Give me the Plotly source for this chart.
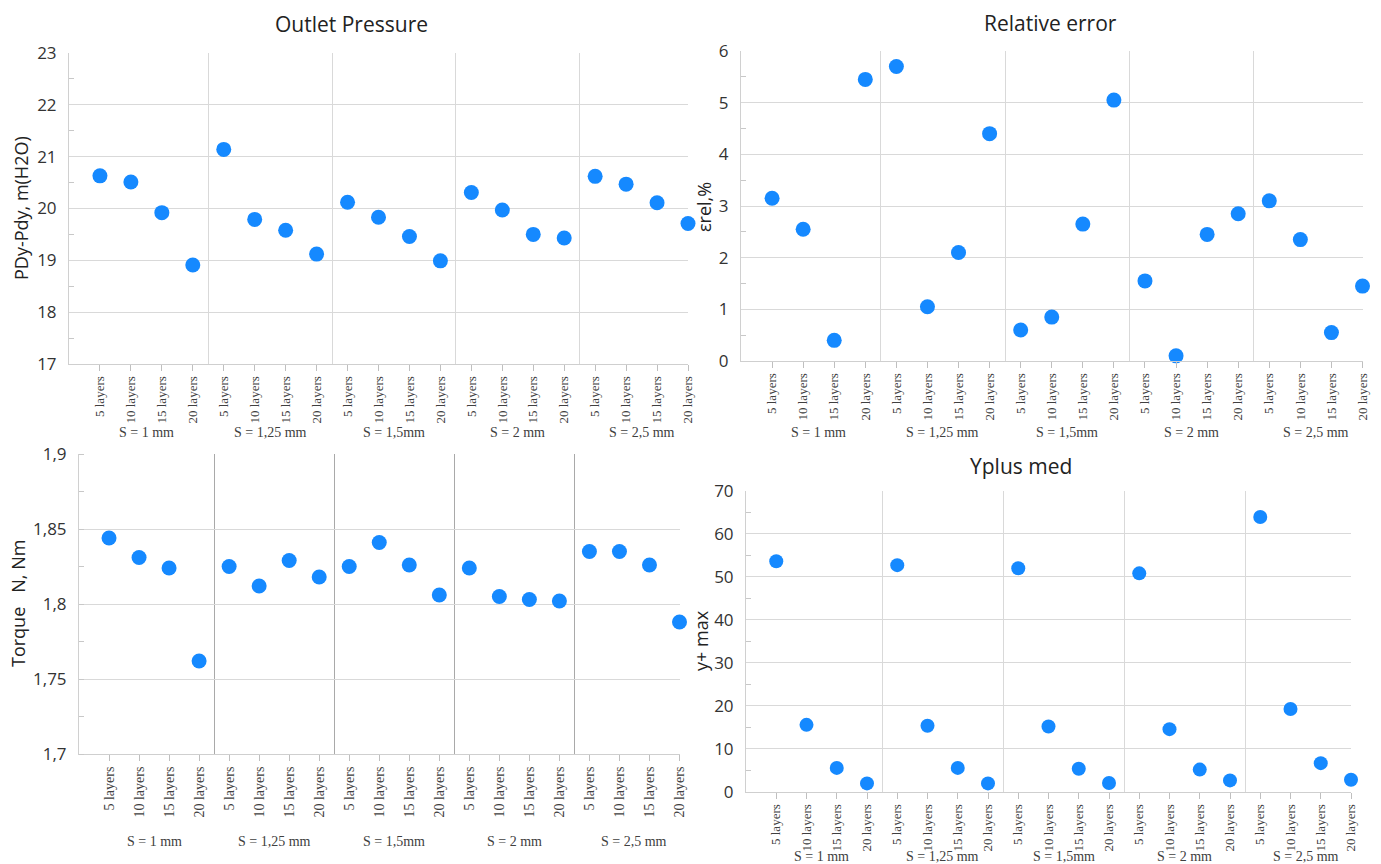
import plotly.graph_objects as go

# ---------------- data ----------------
layers = ["5 layers", "10 layers", "15 layers", "20 layers"]
groups = ["S = 1 mm", "S = 1,25 mm", "S = 1,5mm", "S = 2 mm", "S = 2,5 mm"]

outlet_pressure = [20.63, 20.51, 19.92, 18.91,
                   21.14, 19.79, 19.58, 19.12,
                   20.12, 19.83, 19.46, 18.99,
                   20.31, 19.97, 19.50, 19.43,
                   20.62, 20.47, 20.11, 19.71]
relative_error = [3.15, 2.55, 0.40, 5.45,
                  5.70, 1.05, 2.10, 4.40,
                  0.60, 0.85, 2.65, 5.05,
                  1.55, 0.10, 2.45, 2.85,
                  3.10, 2.35, 0.55, 1.45]
torque = [1.844, 1.831, 1.824, 1.762,
          1.825, 1.812, 1.829, 1.818,
          1.825, 1.841, 1.826, 1.806,
          1.824, 1.805, 1.803, 1.802,
          1.835, 1.835, 1.826, 1.788]
yplus = [53.6, 15.6, 5.6, 2.0,
         52.7, 15.4, 5.6, 2.0,
         52.0, 15.2, 5.4, 2.1,
         50.8, 14.6, 5.2, 2.7,
         63.9, 19.3, 6.7, 2.85]

torque_ticks = [1.7, 1.75, 1.8, 1.85, 1.9]
torque_ticktext = ["1,7", "1,75", "1,8", "1,85", "1,9"]

# ---------------- derived ----------------
n_per = len(layers)
labels = [l for g in groups for l in layers]
xs = list(range(len(labels)))
separators = [n_per * (i + 1) - 0.5 for i in range(len(groups) - 1)]
group_centers = [n_per * i + (n_per - 1) / 2 for i in range(len(groups))]

W, H = 1381, 864
def px_x(p):
    return p / W
def px_y(p):
    return 1 - p / H

BLUE = "#1589ff"
GRID = "#d9d9d9"
SERIF = "Liberation Serif, Times New Roman, serif"
SANS = "Open Sans, Noto Sans, sans-serif"

panels = [
    dict(v=outlet_pressure, xd=(69, 688), yd=(53, 364), yr=[17, 23], dt=1, mn=0.5,
         gy=432, sep=GRID, ms=15, fs=13),
    dict(v=relative_error, xd=(741, 1362.5), yd=(51, 361), yr=[0, 6], dt=1, mn=0.5,
         gy=432, sep=GRID, ms=15, fs=13),
    dict(v=torque, xd=(79, 679.5), yd=(454, 754), yr=[1.7, 1.9], dt=0.05, mn=0.025,
         gy=841, sep="#a9a9a9", ms=15, fs=14),
    dict(v=yplus, xd=(746, 1351), yd=(490.7, 792), yr=[0, 70], dt=10, mn=5,
         gy=856, sep=GRID, ms=14, fs=13),
]

fig = go.Figure()
layout = dict(
    width=W, height=H,
    margin=dict(l=0, r=0, t=0, b=0, autoexpand=False),
    paper_bgcolor="white", plot_bgcolor="white",
    showlegend=False, hovermode=False,
)
annotations = []

for i, p in enumerate(panels, start=1):
    sfx = "" if i == 1 else str(i)
    fig.add_trace(go.Scatter(
        x=xs, y=p["v"], mode="markers",
        marker=dict(color=BLUE, size=p["ms"], line=dict(width=0)),
        xaxis="x" + sfx, yaxis="y" + sfx, cliponaxis=False,
    ))
    layout["xaxis" + sfx] = dict(
        domain=[px_x(p["xd"][0]), px_x(p["xd"][1])],
        anchor="y" + sfx, automargin=False,
        range=[-1, len(labels) - 1],
        tickmode="array", tickvals=xs, ticktext=labels,
        tickangle=-90,
        tickfont=dict(family=SERIF, size=p["fs"], color="#404040"),
        ticks="outside", ticklen=6, tickcolor="#bfbfbf",
        showline=True, linecolor="#cfcfcf", linewidth=1,
        showgrid=False, zeroline=False,
        minor=dict(tickmode="array", tickvals=separators, showgrid=True,
                   gridcolor=p["sep"], gridwidth=1, ticks=""),
    )
    yax = dict(
        domain=[px_y(p["yd"][1]), px_y(p["yd"][0])],
        anchor="x" + sfx, automargin=False,
        range=p["yr"],
        dtick=p["dt"], tick0=p["yr"][0],
        tickfont=dict(family=SANS, size=17, color="#333333"),
        ticks="", ticklabelstandoff=8,
        showline=True, linecolor="#d0d0d0", linewidth=1,
        showgrid=True, gridcolor=GRID, gridwidth=1, zeroline=False,
        minor=dict(dtick=p["mn"], tick0=p["yr"][0], ticks="inside", ticklen=5,
                   tickcolor="#c8c8c8", showgrid=False),
    )
    if p["v"] is torque:
        yax.update(tickmode="array", tickvals=torque_ticks, ticktext=torque_ticktext)
    layout["yaxis" + sfx] = yax

    for gc, gname in zip(group_centers, groups):
        annotations.append(dict(
            x=gc, y=px_y(p["gy"]), xref="x" + sfx, yref="paper",
            text=gname, showarrow=False, yanchor="middle", xanchor="center",
            font=dict(family=SERIF, size=14, color="#404040"),
        ))

titles = [("Outlet Pressure", 351, 24), ("Relative error", 1050, 23), ("Yplus med", 1021, 466)]
for t, x, y in titles:
    annotations.append(dict(
        x=px_x(x), y=px_y(y), xref="paper", yref="paper", text=t, showarrow=False,
        xanchor="center", yanchor="middle",
        font=dict(family=SANS, size=21, color="#222222"),
    ))

ytitles = [("PDy-Pdy, m(H2O)", 21, 208), ("εrel,%", 704, 207),
           ("Torque   N, Nm", 18, 604), ("y+ max", 701, 641)]
for t, x, y in ytitles:
    annotations.append(dict(
        x=px_x(x), y=px_y(y), xref="paper", yref="paper",
        text=t.replace("   ", "&nbsp;&nbsp;&nbsp;"),
        showarrow=False, textangle=-90, xanchor="center", yanchor="middle",
        font=dict(family=SANS, size=18, color="#222222"),
    ))

layout["annotations"] = annotations
fig.update_layout(**layout)
fig.write_html("out.html",
               config={"displayModeBar": False, "staticPlot": True},
               post_script="document.body.style.margin='0';document.body.style.overflow='hidden';")
